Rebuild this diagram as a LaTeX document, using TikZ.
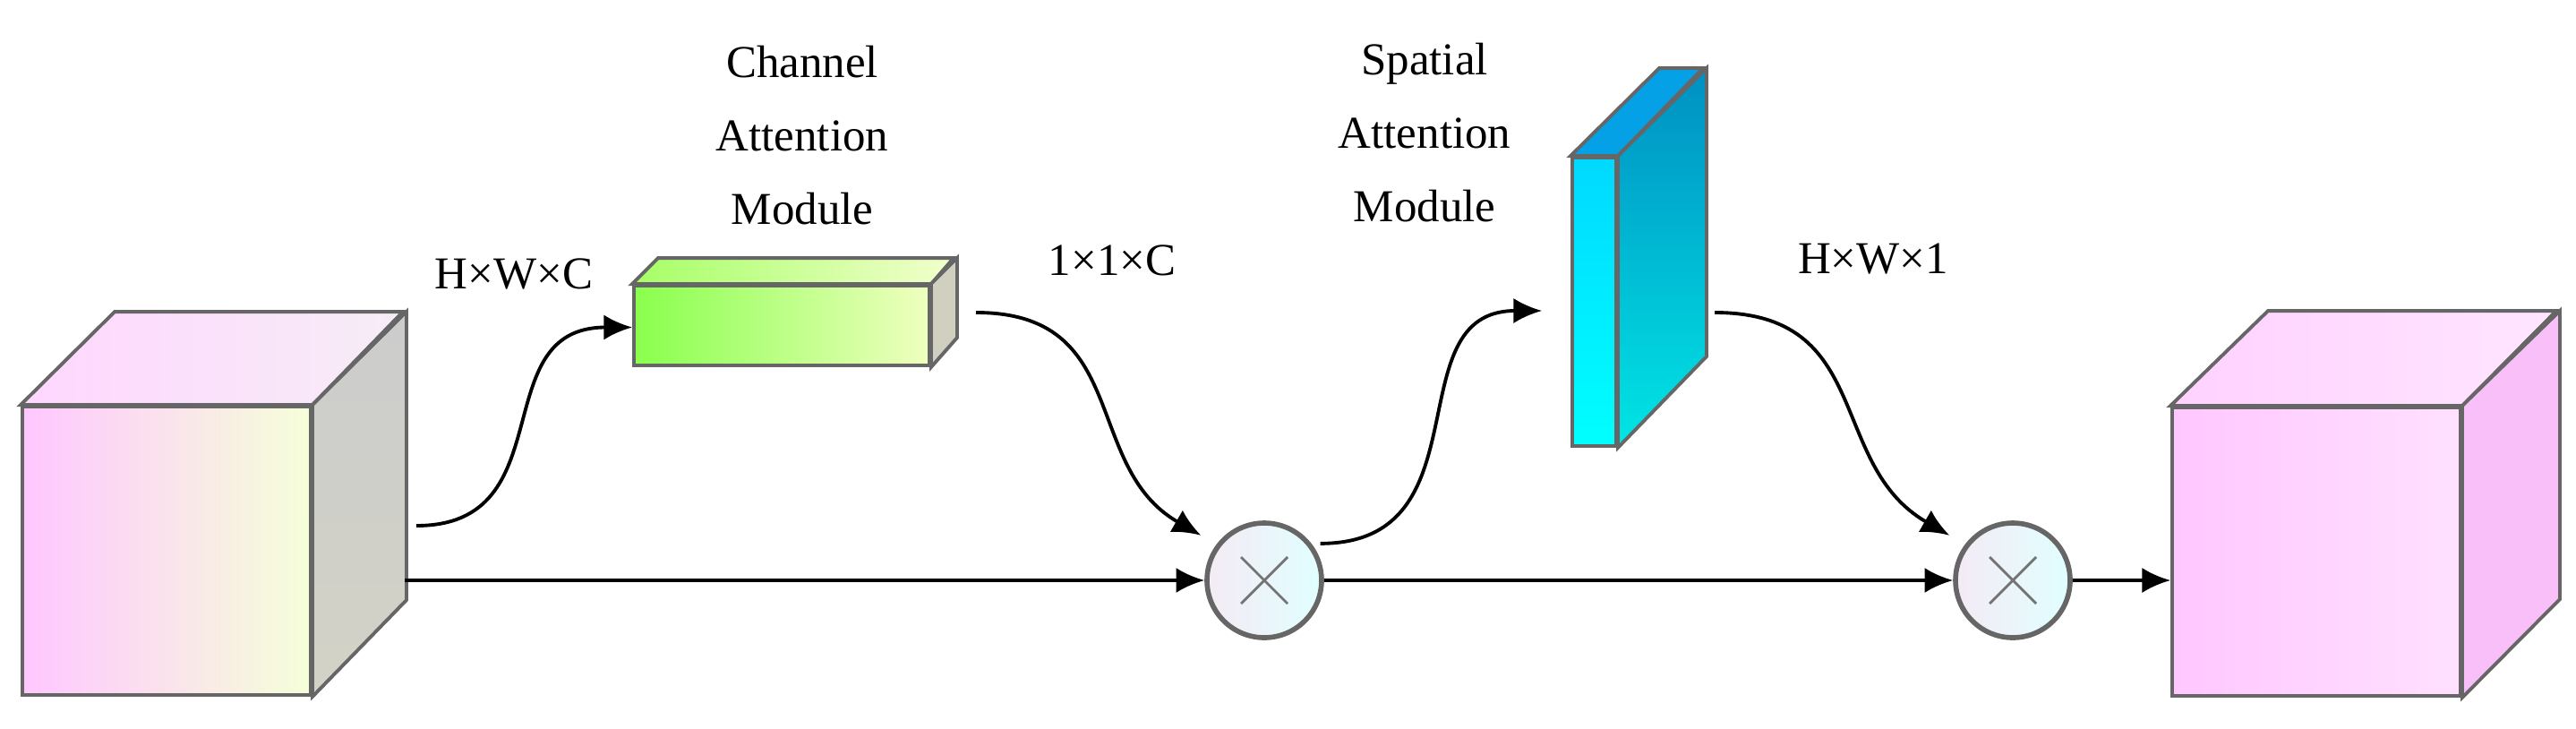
\documentclass[tikz,border=0pt]{standalone}
\usepackage{fontspec}
\setmainfont{Liberation Serif}
\usetikzlibrary{arrows.meta}
\tikzset{
  face/.style={draw=black!60, line width=1.1pt},
  lbl/.style={font=\fontsize{14.5}{23.3}\selectfont, align=center, inner sep=0pt},
  flow/.style={->, >={Latex[length=9pt,width=8pt]}, line width=1.1pt},
  mul/.style={circle, draw=black!60, line width=1.6pt, minimum size=1.28cm, inner sep=0pt,
    left color=violet!8, right color=cyan!12},
}
\begin{document}
\begin{tikzpicture}
			\useasboundingbox (0,0) rectangle (28.77,8.13);
			% Define nodes
			\node[face, minimum width=3.22cm, minimum height=3.22cm, inner sep=0pt, left color=magenta!22, right color=lime!15] (inL) at (1.86,1.98) {};
			\node[face, minimum width=3.30cm, minimum height=0.89cm, inner sep=0pt, left color=green!55!lime!70, right color=lime!25!white] (cam) at (8.73,4.495) {};
			\node[face, minimum width=0.49cm, minimum height=3.22cm, inner sep=0pt, top color=cyan!85!blue, bottom color=cyan] (sam) at (17.805,4.76) {};
			\node[face, minimum width=3.22cm, minimum height=3.22cm, inner sep=0pt, left color=magenta!22, right color=magenta!12] (outR) at (25.87,1.97) {};
			\node[mul] (mul1) at (14.12,1.65) {};
			\node[mul] (mul2) at (22.48,1.65) {};

			% Draw top and side faces
			\shade[face, left color=magenta!16, right color=violet!7] (inL.north west) -- ++(1.05,1.04) -- ++(3.22,0) -- (inL.north east) -- cycle;
			\shade[face, top color=black!20, bottom color=olive!25!black!20] (inL.north east) -- ++(1.05,1.04) -- ++(0,-3.22) -- (inL.south east) -- cycle;
			\shade[face, left color=green!45!lime!60, right color=lime!20!white] (cam.north west) -- ++(0.29,0.29) -- ++(3.30,0) -- (cam.north east) -- cycle;
			\fill[face, fill=olive!30!black!25] (cam.north east) -- ++(0.29,0.29) -- ++(0,-0.89) -- (cam.south east) -- cycle;
			\fill[face, fill=cyan!90!blue] (sam.north west) -- ++(0.99,0.98) -- ++(0.49,0) -- (sam.north east) -- cycle;
			\shade[face, top color=cyan!70!black!80!blue, bottom color=cyan!80!teal] (sam.north east) -- ++(0.99,0.98) -- ++(0,-3.22) -- (sam.south east) -- cycle;
			\shade[face, left color=magenta!18, right color=magenta!10] (outR.north west) -- ++(1.09,1.06) -- ++(3.22,0) -- (outR.north east) -- cycle;
			\fill[face, fill=violet!20!magenta!25] (outR.north east) -- ++(1.09,1.06) -- ++(0,-3.22) -- (outR.south east) -- cycle;

			% Multiply signs
			\foreach \m in {mul1,mul2} {
				\draw[black!55, line width=0.8pt] ([shift={(-0.26,-0.26)}]\m.center) -- ([shift={(0.26,0.26)}]\m.center);
				\draw[black!55, line width=0.8pt] ([shift={(-0.26,0.26)}]\m.center) -- ([shift={(0.26,-0.26)}]\m.center);
			}

			% Labels
			\node[lbl] (hwc) at (5.74,5.07) {H×W×C};
			\node[lbl] (oc) at (12.42,5.22) {1×1×C};
			\node[lbl] (hw1) at (20.92,5.24) {H×W×1};
			\node[lbl] (camtxt) at (8.96,6.62) {Channel\\Attention\\Module};
			\node[lbl] (samtxt) at (15.91,6.65) {Spatial\\Attention\\Module};

			% Connectors
			\coordinate (sideL) at (4.52,1.65);
			\coordinate (c1s) at (4.65,2.26);
			\coordinate (c2s) at (10.90,4.64);
			\coordinate (c4s) at (19.15,4.64);
			\draw[flow] (sideL) -- (mul1.west);
			\draw[flow] (mul1.east) -- (mul2.west);
			\draw[flow] (mul2.east) -- (mul2.east -| outR.west);
			\draw[flow] (c1s) to[out=0, in=180, looseness=1.3] ([yshift=-0.2mm]cam.west);
			\draw[flow, shorten >=0.2cm] (c2s) to[out=0, in=150, looseness=1.2] (mul1.143);
			\draw[flow, shorten <=0.1cm, shorten >=0.32cm] (mul1.38) to[out=0, in=180, looseness=1.3] ([yshift=-1mm]sam.west);
			\draw[flow, shorten >=0.2cm] (c4s) to[out=0, in=150, looseness=1.2] (mul2.143);

		\end{tikzpicture}
\end{document}
